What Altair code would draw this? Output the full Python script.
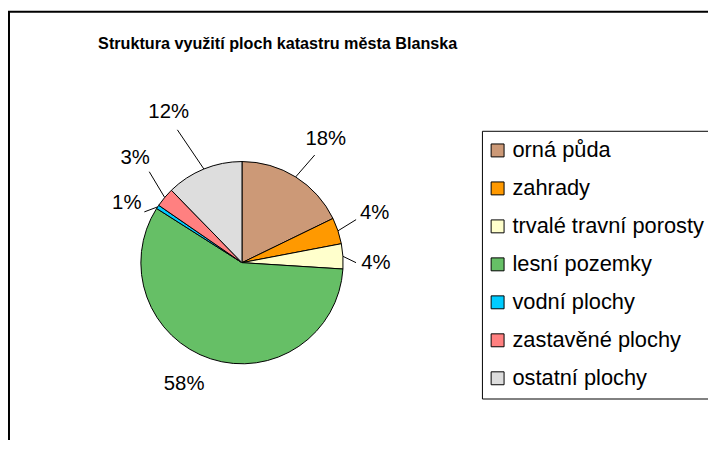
import altair as alt
import pandas as pd

categories = ["orná půda", "zahrady", "trvalé travní porosty", "lesní pozemky",
              "vodní plochy", "zastavěné plochy", "ostatní plochy"]
shares = [17.8, 4.2, 4.0, 58.0, 0.6, 3.1, 12.3]
labels = ["18%", "4%", "4%", "58%", "1%", "3%", "12%"]
colors = ["#CC9977", "#FF9900", "#FFFFCC", "#66BF66", "#00CCFF", "#FF8080", "#DDDDDD"]
title_text = "Struktura využití ploch katastru města Blanska"

# layout of the data labels: distance from the pie centre, angular shift (deg), leader flag
label_dist = [151, 143, 135, 136, 131, 151, 169]
label_shift = [2.0, -2.3, 3.6, 7.4, -6.0, 4.3, -3.8]
has_leader = [1, 1, 1, 0, 1, 1, 1]

df = pd.DataFrame({"kat": categories, "podil": shares, "label": labels,
                   "poradi": list(range(len(categories))),
                   "dist": label_dist, "shift": label_shift, "leader": has_leader})

CX, CY, R = 236, 253, 102
FONT = "Liberation Sans"

color_enc = alt.Color(
    "kat:N",
    scale=alt.Scale(domain=categories, range=colors),
    sort=categories,
    legend=alt.Legend(
        title=None, orient="none", legendX=478, legendY=120,
        symbolType="square", symbolSize=170, symbolStrokeColor="black",
        symbolStrokeWidth=1, symbolOffset=-4, labelFont=FONT, labelFontSize=22,
        labelColor="black", labelOffset=4, rowPadding=16.3,
        padding=8.8, strokeColor="black", fillColor="white",
        labelLimit=400,
    ),
)

pie = alt.Chart(df).mark_arc(radius=R, stroke="black", strokeWidth=1, x=CX, y=CY).encode(
    theta=alt.Theta("podil:Q", stack=True),
    order=alt.Order("poradi:Q", sort="ascending"),
    color=color_enc,
)

geo = alt.Chart(df).transform_window(
    cum="sum(podil)", sort=[alt.SortField("poradi", order="ascending")]
).transform_joinaggregate(
    total="sum(podil)"
).transform_calculate(
    mid="(datum.cum - datum.podil / 2) / datum.total * 2 * PI",
    lab="(datum.cum - datum.podil / 2) / datum.total * 2 * PI + datum.shift * PI / 180",
)

text = geo.transform_calculate(
    lx=f"{CX} + datum.dist * sin(datum.lab)",
    ly=f"{CY} - datum.dist * cos(datum.lab)",
).mark_text(font=FONT, fontSize=20.5, color="black").encode(
    x=alt.X("lx:Q", scale=None, axis=None),
    y=alt.Y("ly:Q", scale=None, axis=None),
    text="label:N",
)

leaders = geo.transform_filter("datum.leader == 1").transform_calculate(
    x0=f"{CX} + {R} * sin(datum.mid)",
    y0=f"{CY} - {R} * cos(datum.mid)",
    x1=f"{CX} + (datum.dist - 20) * sin(datum.lab)",
    y1=f"{CY} - (datum.dist - 20) * cos(datum.lab)",
).mark_rule(color="black", strokeWidth=1).encode(
    x=alt.X("x0:Q", scale=None, axis=None),
    y=alt.Y("y0:Q", scale=None, axis=None),
    x2="x1:Q",
    y2="y1:Q",
)

title = alt.Chart(pd.DataFrame({"t": [title_text]})).mark_text(
    font=FONT, fontSize=16.3, fontWeight="bold", color="black",
    align="center", baseline="alphabetic"
).encode(text="t:N", x=alt.value(272), y=alt.value(37))

frame = alt.Chart(pd.DataFrame({"a": [0]})).mark_rect(
    fillOpacity=0, stroke="black", strokeWidth=2
).encode(x=alt.value(1), x2=alt.value(3000), y=alt.value(0), y2=alt.value(3000))

chart = alt.layer(frame, pie, leaders, text, title).properties(
    width=706, height=430,
    autosize=alt.AutoSizeParams(type="none"),
    padding={"left": 0, "top": 2, "right": 0, "bottom": 0},
    background="white",
).configure_view(strokeOpacity=0)

chart.save("out.html", embed_options={"renderer": "svg", "actions": False})
